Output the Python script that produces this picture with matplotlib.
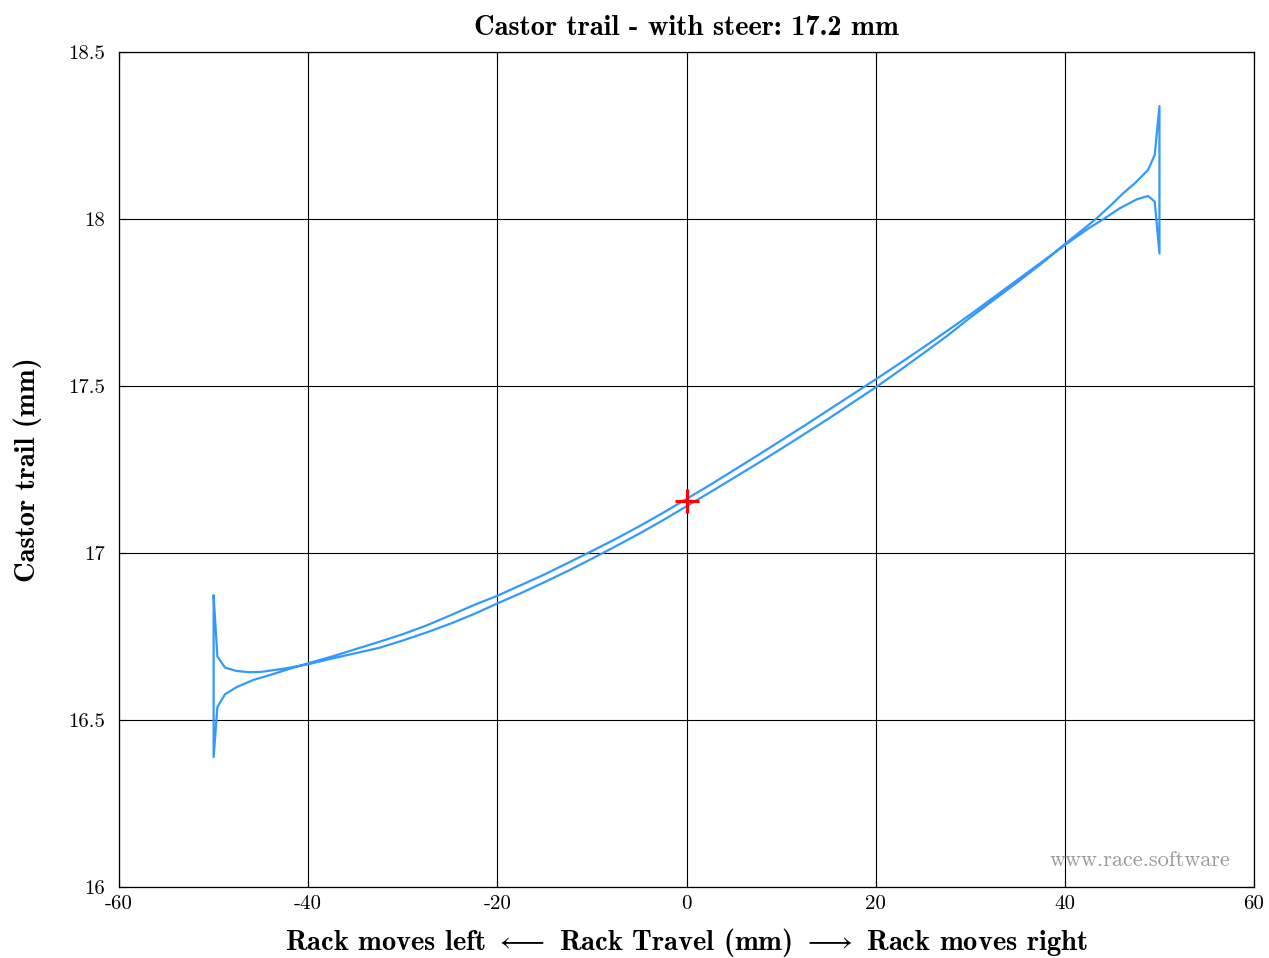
import numpy as np
import matplotlib
matplotlib.use('Agg')
import matplotlib.pyplot as plt

plt.rcParams['font.family'] = 'serif'
plt.rcParams['font.serif'] = ['cmr10']
plt.rcParams['mathtext.fontset'] = 'cm'
plt.rcParams['axes.unicode_minus'] = False
plt.rcParams['axes.formatter.use_mathtext'] = False

# rack travel (mm) and castor trail (mm), two branches of the sweep
rack_a = [-50, -49.6, -48.8, -47.6, -46.2, -45, -42.5, -40, -37.5, -35, -32.5, -30,
          -27.5, -25, -22.5, -20, -17.5, -15, -12.5, -10, -7.5, -5, -2.5, 0,
          2.5, 5, 7.5, 10, 12.5, 15, 17.5, 20, 22.5, 25, 27.5, 30, 32.5, 35,
          37.5, 40, 42.5, 43.4, 45, 46.2, 47.4, 48.8, 49.5, 50]
trail_a = [16.872, 16.69, 16.657, 16.647, 16.643, 16.644, 16.654, 16.667, 16.684, 16.700,
           16.716, 16.738, 16.762, 16.788, 16.817, 16.849, 16.880, 16.913, 16.947,
           16.983, 17.020, 17.058, 17.098, 17.140, 17.182, 17.225, 17.268, 17.312,
           17.357, 17.402, 17.449, 17.496, 17.546, 17.597, 17.649, 17.705, 17.758,
           17.811, 17.866, 17.925, 17.982, 18.003, 18.045, 18.078, 18.107, 18.147,
           18.192, 18.338]

rack_b = [-50, -49.6, -48.8, -47.6, -45.8, -44, -42, -40, -37.5, -35, -32.5, -30,
          -27.5, -25, -22.5, -20, -17.5, -15, -12.5, -10, -7.5, -5, -2.5, 0,
          2.5, 5, 7.5, 10, 12.5, 15, 17.5, 20, 22.5, 25, 27.5, 30, 32.5, 35,
          37.5, 40, 42.5, 44.1, 45.8, 47.6, 48.8, 49.5, 50]
trail_b = [16.389, 16.539, 16.577, 16.598, 16.620, 16.635, 16.653, 16.670, 16.690,
           16.712, 16.734, 16.757, 16.783, 16.813, 16.844, 16.872, 16.904, 16.936,
           16.971, 17.006, 17.042, 17.080, 17.120, 17.162, 17.204, 17.248, 17.292,
           17.337, 17.382, 17.428, 17.474, 17.520, 17.567, 17.615, 17.664, 17.714,
           17.766, 17.818, 17.870, 17.922, 17.972, 18.0, 18.032, 18.059, 18.069,
           18.052, 17.897]

static_rack = 0
static_trail = 17.155

# one closed path: out along branch a, back along branch b
x = rack_a + rack_b[::-1] + rack_a[:1]
y = trail_a + trail_b[::-1] + trail_a[:1]

fig = plt.figure(figsize=(12.69, 9.58), dpi=100)
ax = fig.add_axes([0.0938, 0.0741, 0.8944, 0.8716])

ax.plot(x, y, color='#3399ff', linewidth=1.6, zorder=3)
ax.plot(static_rack, static_trail, marker='+', color='red', markersize=17,
        markeredgewidth=2.3, zorder=4)

ax.set_xlim(-60, 60)
ax.set_ylim(16, 18.5)
ax.set_xticks(np.arange(-60, 61, 20))
ax.set_yticks([16, 16.5, 17, 17.5, 18, 18.5])
ax.set_yticklabels(['16', '16.5', '17', '17.5', '18', '18.5'])
ax.grid(True, color='black', linewidth=0.8)
ax.tick_params(direction='in', top=True, right=True, labelsize=15, length=5)
ax.tick_params(axis='x', pad=6)
ax.tick_params(axis='y', pad=10)
for s in ax.spines.values():
    s.set_linewidth(0.9)

bold = dict(family='cmb10', fontsize=20.5)
ax.set_title('Castor trail - with steer: 17.2 mm', pad=12, **bold)
ax.set_xlabel(r'Rack moves left $\longleftarrow$ Rack Travel (mm) $\longrightarrow$ Rack moves right',
              labelpad=9, **bold)
ax.set_ylabel('Castor trail (mm)', labelpad=19, **bold)

ax.text(0.979, 0.032, 'www.race.software', transform=ax.transAxes, ha='right',
        va='center', color='#999999', fontsize=16)

fig.savefig('out.png', dpi=100)
